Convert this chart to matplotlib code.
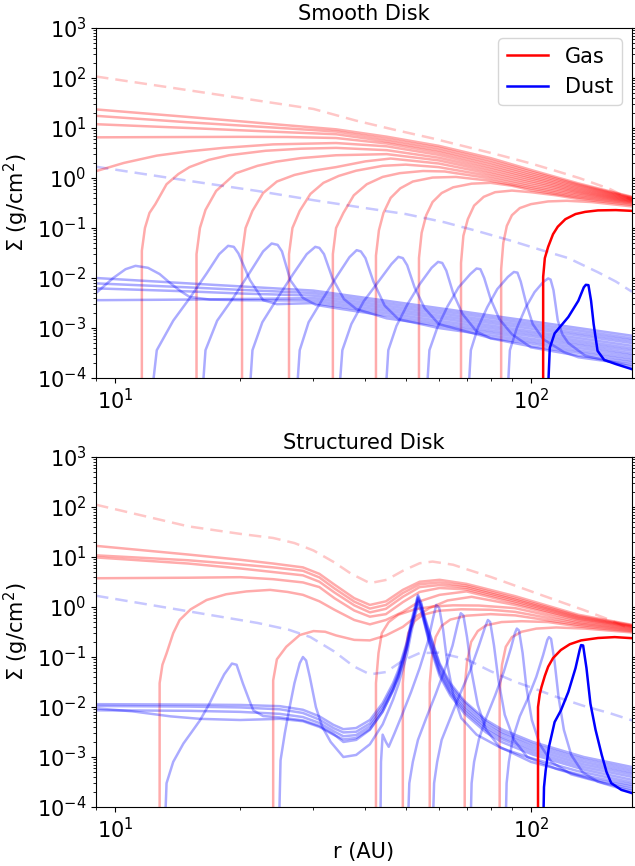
import numpy as np
import matplotlib
matplotlib.use('Agg')
import matplotlib.pyplot as plt
from matplotlib.lines import Line2D
from matplotlib.ticker import NullFormatter

# ---------------- Smooth disk ----------------
# initial profiles (dashed)
smooth_gas0 = [(9, 107), (14, 62), (21.4, 36.6), (30, 24), (38, 14), (47, 9.2), (58, 6.2),
               (70, 4.2), (85, 2.8), (100, 1.95), (115, 1.38), (131, 0.99), (155, 0.6), (175, 0.36)]
smooth_dust0 = [(9, 1.68), (15, 0.88), (22, 0.55), (30, 0.36), (40, 0.25), (50, 0.19), (62, 0.13),
                (75, 0.085), (90, 0.055), (105, 0.037), (123, 0.025), (145, 0.013), (160, 0.0085), (175, 0.0053)]

# gas snapshots, last one is the final (opaque) profile
smooth_gas = [
    [(9, 23.5), (15, 16.6), (20, 13.6), (26, 11.3), (34, 9.4), (45, 6.7), (60, 4.4), (80, 2.5), (100, 1.45), (130, 0.78), (175, 0.42)],
    [(9, 17.5), (15, 13.0), (20, 11.2), (26, 9.8), (34, 8.5), (45, 6.0), (60, 4.0), (80, 2.25), (100, 1.33), (130, 0.74), (175, 0.41)],
    [(9, 11.9), (15, 10.0), (20, 9.0), (26, 8.2), (34, 7.5), (45, 5.4), (60, 3.6), (80, 2.03), (100, 1.22), (130, 0.7), (175, 0.40)],
    [(9, 6.5), (15, 6.6), (20, 6.65), (26, 6.6), (34, 6.3), (45, 4.9), (60, 3.25), (80, 1.83), (100, 1.12), (130, 0.66), (175, 0.39)],
    [(9, 1.37), (10.5, 2.0), (12.6, 2.8), (15, 3.4), (18.2, 4.0), (24, 4.7), (34, 5.0), (45, 4.3), (60, 2.9), (80, 1.65), (100, 1.03),
     (130, 0.62), (175, 0.38)],
    [(11.6, 1e-5), (11.6, 0.035), (11.8, 0.1), (12.1, 0.2), (12.5, 0.3), (13.3, 0.75), (14.2, 1.2), (15.1, 1.65), (16.8, 2.3), (18.8, 2.85),
     (23, 3.5), (28, 3.85), (34, 4.0), (45, 3.6), (60, 2.55), (80, 1.49), (100, 0.95), (130, 0.585), (175, 0.37)],
    [(15.7, 1e-5), (15.7, 0.03), (16.0, 0.1), (16.5, 0.23), (17.5, 0.55), (19.5, 1.24), (22, 1.75), (24.4, 2.12), (28, 2.5), (34, 2.85),
     (45, 3.0), (60, 2.25), (80, 1.34), (100, 0.87), (130, 0.55), (175, 0.36)],
    [(20.2, 1e-5), (20.2, 0.03), (20.6, 0.1), (21.4, 0.22), (22.7, 0.5), (24.5, 0.85), (27, 1.15), (30, 1.4), (34, 1.65), (40, 2.15),
     (46, 2.45), (60, 1.95), (80, 1.21), (100, 0.8), (130, 0.52), (175, 0.35)],
    [(26.2, 1e-5), (26.2, 0.03), (26.7, 0.1), (27.8, 0.22), (29.5, 0.48), (31.7, 0.8), (34.5, 1.1), (38, 1.4), (44, 1.75), (50, 1.85),
     (60, 1.65), (80, 1.09), (100, 0.73), (130, 0.49), (175, 0.34)],
    [(33.4, 1e-5), (33.4, 0.03), (34, 0.1), (35.4, 0.2), (37.5, 0.45), (40.3, 0.75), (44, 1.05), (48.4, 1.25), (55, 1.38), (62, 1.35),
     (80, 0.98), (100, 0.67), (130, 0.46), (175, 0.33)],
    [(42.4, 1e-5), (42.4, 0.028), (43.1, 0.09), (44.2, 0.2), (46, 0.4), (48.5, 0.62), (52, 0.85), (58, 1.02), (66, 1.05), (80, 0.88),
     (100, 0.62), (130, 0.43), (175, 0.32)],
    [(53.8, 1e-5), (53.8, 0.025), (54.6, 0.08), (56, 0.18), (58, 0.33), (61, 0.5), (65, 0.65), (72, 0.77), (80, 0.8), (90, 0.7),
     (100, 0.57), (130, 0.405), (175, 0.305)],
    [(67.9, 1e-5), (67.9, 0.02), (68.8, 0.07), (70.5, 0.15), (73, 0.28), (77, 0.42), (82, 0.52), (90, 0.56), (100, 0.52), (115, 0.45),
     (130, 0.38), (175, 0.29)],
    [(84.8, 1e-5), (84.8, 0.015), (85.8, 0.05), (87.5, 0.11), (90, 0.18), (94, 0.25), (100, 0.3), (110, 0.34), (122, 0.35), (140, 0.33),
     (175, 0.27)],
    [(107, 1e-5), (107, 0.0105), (108, 0.025), (110, 0.042), (113, 0.075), (116, 0.106), (121, 0.15), (128, 0.19), (135, 0.21),
     (145, 0.225), (160, 0.228), (175, 0.22)],
]

smooth_dust = [
    [(9, 1.0e-2), (15, 7.8e-3), (20, 6.8e-3), (30, 5.6e-3), (45, 3.5e-3), (60, 2.5e-3), (80, 1.78e-3), (100, 1.37e-3), (130, 1.0e-3), (175, 7.0e-4)],
    [(9, 7.8e-3), (15, 6.5e-3), (20, 5.8e-3), (30, 5.0e-3), (45, 3.12e-3), (60, 2.23e-3), (80, 1.59e-3), (100, 1.22e-3), (130, 8.9e-4), (175, 6.2e-4)],
    [(9, 6.2e-3), (15, 5.4e-3), (20, 4.9e-3), (30, 4.45e-3), (45, 2.78e-3), (60, 1.99e-3), (80, 1.41e-3), (100, 1.09e-3), (130, 7.9e-4), (175, 5.6e-4)],
    [(9, 3.6e-3), (15, 3.7e-3), (20, 3.8e-3), (30, 3.96e-3), (45, 2.48e-3), (60, 1.77e-3), (80, 1.26e-3), (100, 9.7e-4), (130, 7.1e-4), (175, 5.0e-4)],
    [(9, 5.0e-3), (9.9, 0.01), (10.6, 0.015), (11.2, 0.0175), (12.0, 0.016), (12.8, 0.012), (13.6, 7.8e-3), (14.4, 5.4e-3), (15.1, 4.2e-3),
     (16.9, 3.7e-3), (20, 3.6e-3), (30, 3.53e-3), (45, 2.21e-3), (60, 1.58e-3), (80, 1.12e-3), (100, 8.6e-4), (130, 6.3e-4), (175, 4.4e-4)],
    [(12.0, 1e-5), (12.6, 3.6e-4), (13.8, 1.4e-3), (15.1, 3.9e-3), (16.6, 0.0123), (17.8, 0.03), (18.7, 0.044), (19.3, 0.042), (19.8, 0.031),
     (21.1, 9.1e-3), (22.7, 3.6e-3), (24.5, 3.0e-3), (30, 3.15e-3), (45, 1.97e-3), (60, 1.4e-3), (80, 1.0e-3), (100, 7.7e-4), (130, 5.6e-4), (175, 3.9e-4)],
    [(16.0, 1e-5), (16.5, 3.6e-4), (17.6, 1.4e-3), (19.2, 3.9e-3), (21.1, 0.013), (22.7, 0.034), (23.8, 0.049), (24.6, 0.046), (25.2, 0.034),
     (26.4, 9.0e-3), (28.3, 4.0e-3), (30.4, 2.9e-3), (35, 2.4e-3), (45, 1.75e-3), (60, 1.25e-3), (80, 8.9e-4), (100, 6.9e-4), (130, 5.0e-4), (175, 3.5e-4)],
    [(20.8, 1e-5), (21.4, 3.6e-4), (22.6, 1.3e-3), (24.5, 3.8e-3), (26.8, 0.012), (28.9, 0.03), (30.3, 0.042), (31.0, 0.04), (31.8, 0.03),
     (33.3, 0.01), (35.5, 3.8e-3), (38, 2.4e-3), (45, 1.56e-3), (60, 1.12e-3), (80, 8.0e-4), (100, 6.1e-4), (130, 4.5e-4), (175, 3.1e-4)],
    [(27, 1e-5), (27.8, 3.6e-4), (29.2, 1.3e-3), (31.5, 3.7e-3), (34.2, 0.011), (36.6, 0.026), (38.1, 0.036), (39.0, 0.034), (40.0, 0.025),
     (41.8, 8.5e-3), (44.5, 2.8e-3), (48, 1.5e-3), (60, 1.0e-3), (80, 7.1e-4), (100, 5.45e-4), (130, 4.0e-4), (175, 2.8e-4)],
    [(34.1, 1e-5), (35.2, 3.6e-4), (37, 1.2e-3), (39.6, 3.4e-3), (43, 8.5e-3), (46.2, 0.019), (48, 0.0265), (49.2, 0.025), (50.4, 0.018),
     (52.5, 6.5e-3), (55.5, 2.5e-3), (60, 1.2e-3), (80, 6.3e-4), (100, 4.9e-4), (130, 3.55e-4), (175, 2.5e-4)],
    [(44.2, 1e-5), (45.4, 3.6e-4), (47.5, 1.1e-3), (50.5, 3.0e-3), (54, 7.5e-3), (57.7, 0.016), (59.8, 0.021), (61.2, 0.02), (62.6, 0.014),
     (65, 5.0e-3), (68.5, 1.9e-3), (74, 8.5e-4), (80, 6.2e-4), (100, 4.3e-4), (130, 3.2e-4), (175, 2.25e-4)],
    [(55.5, 1e-5), (57, 3.6e-4), (59.5, 1.0e-3), (63, 2.7e-3), (67, 6.5e-3), (71.5, 0.012), (74, 0.0155), (75.6, 0.015), (77.2, 0.01),
     (80, 3.8e-3), (84, 1.5e-3), (90, 7.5e-4), (100, 4.1e-4), (130, 2.8e-4), (175, 2.05e-4)],
    [(70, 1e-5), (71.7, 3.6e-4), (74.5, 1.0e-3), (78.5, 2.6e-3), (83, 6.0e-3), (88, 0.0105), (91, 0.0132), (92.8, 0.0128), (94.5, 8.5e-3),
     (97.5, 3.0e-3), (101, 1.2e-3), (107, 6.0e-4), (120, 3.3e-4), (130, 2.6e-4), (175, 1.85e-4)],
    [(87, 1e-5), (89, 3.6e-4), (92.5, 1.0e-3), (97, 2.5e-3), (102, 5.2e-3), (107, 8.3e-3), (110, 9.8e-3), (111.5, 9.3e-3), (113.3, 5.7e-3),
     (116, 1.43e-3), (119, 7.5e-4), (123, 5.0e-4), (135, 2.8e-4), (175, 1.68e-4)],
    [(109, 1e-5), (111, 4.0e-4), (114, 7.8e-4), (123, 1.66e-3), (130, 3.5e-3), (134, 6.5e-3), (135.5, 7.3e-3), (137.5, 7.2e-3),
     (139.5, 3.5e-3), (141.5, 1.2e-3), (144.6, 3.5e-4), (150, 2.3e-4), (160, 1.9e-4), (175, 1.5e-4)],
]

# ---------------- Structured disk ----------------
struct_gas0 = [(9, 111), (15, 41), (20, 29), (24, 24), (27, 19), (30, 13.5), (33.5, 8.0), (37, 4.6), (41, 3.0), (45, 3.5),
               (49.2, 5.3), (54, 7.5), (58, 8.1), (65, 7.0), (70, 5.7), (80, 4.0), (101, 2.0), (120, 1.2), (134, 0.87), (155, 0.55), (175, 0.35)]
struct_dust0 = [(9, 1.68), (16, 0.75), (22, 0.48), (26.2, 0.35), (29.5, 0.25), (33.6, 0.13), (37.5, 0.065), (41, 0.045), (44.8, 0.05),
                (49.2, 0.085), (54, 0.12), (60, 0.122), (70, 0.09), (80, 0.052), (91.6, 0.032), (101, 0.024), (115, 0.016),
                (134, 0.0105), (155, 0.0075), (175, 0.0054)]

struct_gas = [
    [(9, 16.7), (15, 11.2), (20, 8.8), (24, 7.4), (28.3, 6.2), (31, 4.6), (33.7, 2.8), (37.6, 1.5), (41, 1.1), (44.8, 1.3), (49.2, 2.2),
     (54, 3.2), (60.3, 3.5), (70, 2.9), (91.6, 1.65), (130, 0.7), (175, 0.44)],
    [(9, 10.8), (15, 8.6), (20, 7.1), (24, 6.2), (28.3, 5.3), (31, 3.9), (33.7, 2.35), (37.6, 1.28), (41, 0.93), (44.8, 1.1), (49.2, 1.9),
     (54, 2.85), (60.3, 3.1), (70, 2.65), (91.6, 1.5), (130, 0.66), (175, 0.43)],
    [(9, 9.8), (15, 7.4), (20, 5.9), (24, 5.0), (28.3, 4.3), (31, 3.2), (33.7, 1.95), (37.6, 1.08), (41, 0.78), (44.8, 0.92), (49.2, 1.6),
     (54, 2.5), (60.3, 2.75), (70, 2.45), (91.6, 1.4), (130, 0.63), (175, 0.42)],
    [(9, 3.76), (15, 3.85), (20, 3.95), (24, 3.6), (28.3, 3.1), (31, 2.5), (33.7, 1.5), (37.6, 0.85), (41, 0.64), (44.8, 0.72), (49.2, 1.25),
     (54, 2.0), (60.3, 2.4), (70, 2.25), (91.6, 1.3), (130, 0.6), (175, 0.41)],
    [(12.8, 1e-5), (12.8, 0.03), (13.0, 0.07), (13.3, 0.118), (13.8, 0.3), (14.3, 0.55), (15.2, 0.9), (16.6, 1.38), (18.5, 1.8), (20.7, 2.05),
     (23.6, 2.2), (26, 2.0), (28.3, 1.75), (31, 1.3), (33.7, 0.88), (37.6, 0.55), (41, 0.45), (44.8, 0.55), (49.2, 0.8), (54, 1.3),
     (60.3, 1.75), (70, 2.05), (91.6, 1.2), (130, 0.57), (175, 0.40)],
    [(24.0, 1e-5), (24.0, 0.034), (24.5, 0.09), (25.8, 0.16), (27.8, 0.275), (30, 0.33), (32, 0.32), (34, 0.27), (37.6, 0.22), (41, 0.215),
     (44.8, 0.27), (49.2, 0.4), (53, 0.65), (57, 0.95), (63, 1.35), (72, 1.6), (91.6, 1.1), (130, 0.54), (175, 0.385)],
    [(42.4, 1e-5), (42.4, 0.03), (43, 0.12), (43.8, 0.3), (45.5, 0.5), (48, 0.7), (52.6, 0.9), (58, 1.02), (65, 1.08), (75, 1.07),
     (91.6, 0.95), (130, 0.5), (175, 0.37)],
    [(49.2, 1e-5), (49.2, 0.03), (49.8, 0.12), (50.7, 0.3), (52.5, 0.52), (55, 0.7), (60, 0.84), (68, 0.9), (80, 0.88), (91.6, 0.8),
     (130, 0.47), (175, 0.355)],
    [(57.1, 1e-5), (57.1, 0.03), (57.8, 0.1), (59, 0.25), (61, 0.42), (64, 0.56), (70, 0.67), (80, 0.72), (91.6, 0.68), (130, 0.44), (175, 0.34)],
    [(69.3, 1e-5), (69.3, 0.025), (70.2, 0.08), (71.8, 0.2), (74.5, 0.33), (78, 0.43), (85, 0.5), (95, 0.52), (110, 0.5), (130, 0.41), (175, 0.325)],
    [(84.1, 1e-5), (84.1, 0.02), (85.2, 0.07), (87, 0.16), (90, 0.25), (95, 0.32), (103, 0.37), (115, 0.39), (135, 0.37), (175, 0.31)],
    [(104, 1e-5), (104, 0.01), (105, 0.018), (106, 0.025), (108, 0.042), (110, 0.064), (113, 0.095), (118, 0.138), (124, 0.18),
     (132, 0.215), (145, 0.24), (159, 0.25), (175, 0.238)],
]

struct_dust = [
    [(9, 0.0114), (15, 0.0112), (20, 0.011), (24.9, 0.0104), (28.3, 8.8e-3), (31, 6.5e-3), (33.5, 4.4e-3), (35.4, 3.6e-3), (38, 3.8e-3),
     (41, 5.5e-3), (44, 0.012), (46.6, 0.03), (48, 0.055), (50.3, 0.2), (51.5, 0.5), (52.6, 1.0), (53.5, 1.74), (54.5, 1.2), (55.5, 0.65),
     (57.1, 0.3), (60.3, 0.075), (64, 0.03), (69.3, 0.013), (78, 5.5e-3), (85, 3.6e-3), (101, 2.0e-3), (134, 1.0e-3), (175, 6.3e-4)],
    [(9, 0.0105), (15, 0.0102), (20, 9.8e-3), (24.9, 9.0e-3), (28.3, 7.6e-3), (31, 5.6e-3), (33.5, 3.8e-3), (35.4, 3.1e-3), (38, 3.2e-3),
     (41, 4.7e-3), (44, 0.0105), (46.6, 0.026), (48, 0.048), (50.3, 0.18), (51.5, 0.45), (52.6, 0.9), (53.5, 1.62), (54.5, 1.12), (55.5, 0.6),
     (57.1, 0.28), (60.3, 0.07), (64, 0.027), (69.3, 0.012), (78, 5.0e-3), (85, 3.2e-3), (101, 1.8e-3), (134, 9.0e-4), (175, 5.6e-4)],
    [(9, 8.6e-3), (15, 8.4e-3), (20, 8.0e-3), (24.9, 7.3e-3), (28.3, 6.3e-3), (31, 4.8e-3), (33.5, 3.3e-3), (35.4, 2.6e-3), (38, 2.75e-3),
     (41, 4.1e-3), (44, 9.2e-3), (46.6, 0.023), (48, 0.043), (50.3, 0.16), (51.5, 0.41), (52.6, 0.82), (53.5, 1.5), (54.5, 1.04), (55.5, 0.55),
     (57.1, 0.24), (60.3, 0.06), (64, 0.024), (69.3, 0.0104), (78, 4.4e-3), (85, 2.9e-3), (101, 1.6e-3), (134, 8.0e-4), (175, 5.0e-4)],
    [(9, 9.4e-3), (11, 8.2e-3), (13.6, 6.5e-3), (16, 5.8e-3), (20, 5.5e-3), (24.9, 5.8e-3), (28.3, 5.2e-3), (31, 4.0e-3), (33.5, 2.8e-3),
     (35.4, 2.25e-3), (38, 2.4e-3), (41, 3.6e-3), (44, 8.2e-3), (46.6, 0.021), (48, 0.039), (50.3, 0.145), (51.5, 0.37), (52.6, 0.75),
     (53.5, 1.4), (54.5, 0.97), (55.5, 0.5), (57.1, 0.21), (60.3, 0.053), (64, 0.021), (69.3, 9.2e-3), (78, 3.9e-3), (85, 2.55e-3),
     (101, 1.42e-3), (134, 7.1e-4), (175, 4.5e-4)],
    [(13.1, 1e-5), (13.3, 3.0e-4), (13.8, 8.0e-4), (14.6, 1.86e-3), (15.3, 3.2e-3), (16.0, 5.4e-3), (16.8, 0.011), (17.5, 0.0217),
     (18.3, 0.045), (19.1, 0.074), (19.6, 0.07), (20.3, 0.0295), (21.0, 0.014), (21.5, 8.6e-3), (22.7, 6.6e-3), (24.9, 6.2e-3),
     (28.3, 5.4e-3), (31, 4.2e-3), (33.5, 2.9e-3), (35.4, 2.0e-3), (38, 2.2e-3), (41, 3.5e-3), (44, 8.0e-3), (46.6, 0.022), (48, 0.04),
     (50.3, 0.15), (51.5, 0.4), (52.6, 0.8), (53.5, 1.3), (54.5, 0.9), (55.5, 0.48), (57.1, 0.19), (60.3, 0.047), (64, 0.019),
     (69.3, 8.2e-3), (78, 3.5e-3), (85, 2.3e-3), (101, 1.26e-3), (134, 6.3e-4), (175, 4.0e-4)],
    [(24.7, 1e-5), (25.0, 8.6e-4), (25.6, 3.0e-3), (26.2, 8.6e-3), (27.0, 0.03), (27.8, 0.075), (28.3, 0.1), (28.8, 0.085), (29.4, 0.04),
     (30.4, 0.01), (31.5, 4.0e-3), (33, 2.0e-3), (35.4, 1.0e-3), (38, 1.1e-3), (41, 1.8e-3), (44, 4.5e-3), (46.6, 0.014), (48, 0.028),
     (50.3, 0.11), (51.5, 0.3), (52.6, 0.65), (53.5, 1.1), (54.5, 0.8), (55.5, 0.45), (57.1, 0.17), (60.3, 0.042), (64, 0.017),
     (69.3, 7.3e-3), (78, 3.1e-3), (85, 2.0e-3), (101, 1.12e-3), (134, 5.6e-4), (175, 3.5e-4)],
    [(43.4, 1e-5), (43.6, 8.0e-4), (44.0, 2.8e-3), (44.8, 2.0e-3), (45.5, 1.6e-3), (47, 3.0e-3), (49, 7.0e-3), (51.5, 0.02), (54, 0.06),
     (56.5, 0.2), (58.3, 0.65), (59.2, 1.1), (60.2, 0.95), (61.5, 0.35), (63, 0.07), (65, 0.018), (68, 6.0e-3), (74, 2.8e-3), (85, 1.5e-3),
     (100, 9.5e-4), (130, 5.2e-4), (175, 3.1e-4)],
    [(50.3, 1e-5), (51, 3.0e-4), (52, 8.0e-4), (53.5, 2.2e-3), (56, 6.0e-3), (59, 0.018), (62, 0.055), (64.8, 0.17), (66.8, 0.5),
     (67.8, 0.75), (68.8, 0.68), (70.2, 0.25), (72, 0.05), (74.5, 0.011), (78, 3.5e-3), (84, 1.6e-3), (100, 8.0e-4), (130, 4.5e-4), (175, 2.8e-4)],
    [(57.8, 1e-5), (58.5, 3.0e-4), (59.5, 8.0e-4), (61, 2.2e-3), (64, 6.0e-3), (67.5, 0.018), (71.5, 0.055), (75, 0.17), (77.6, 0.4),
     (78.8, 0.55), (79.8, 0.5), (81.5, 0.17), (83.5, 0.035), (86.5, 7.0e-3), (91, 2.2e-3), (98, 1.0e-3), (115, 5.8e-4), (140, 3.6e-4), (175, 2.55e-4)],
    [(71.3, 1e-5), (72, 3.0e-4), (73, 8.0e-4), (75, 2.3e-3), (78, 6.0e-3), (82, 0.017), (86, 0.05), (89.5, 0.15), (91.5, 0.3), (92.5, 0.37),
     (93.6, 0.34), (95.5, 0.12), (97.5, 0.025), (100.5, 5.5e-3), (105, 1.8e-3), (112, 8.0e-4), (125, 4.5e-4), (150, 3.0e-4), (175, 2.3e-4)],
    [(86.6, 1e-5), (87.4, 3.0e-4), (88.5, 8.0e-4), (90.5, 2.4e-3), (94, 6.5e-3), (98, 0.014), (103, 0.04), (107, 0.11), (109.5, 0.22),
     (110.5, 0.25), (111.8, 0.23), (114, 0.08), (116.5, 0.016), (120, 3.5e-3), (125, 1.1e-3), (133, 5.0e-4), (145, 3.2e-4), (160, 2.5e-4), (175, 2.1e-4)],
    [(106.7, 1e-5), (107.5, 2.5e-4), (108.5, 5.4e-4), (110.5, 1.6e-3), (114, 5.0e-3), (118, 8.5e-3), (123, 0.02), (128, 0.06), (131, 0.14),
     (132, 0.173), (133.5, 0.17), (136, 0.06), (139, 0.0117), (143, 3.5e-3), (148, 1.1e-3), (152, 5.0e-4), (156, 3.0e-4), (165, 2.2e-4), (175, 1.9e-4)],
]

y_decades = [1e-4, 1e-3, 1e-2, 1e-1, 1e0, 1e1, 1e2, 1e3]
x_decades = [10, 100]

FS = 15
LW = 1.8


def draw_panel(ax, gas0, dust0, gas, dust, title):
    r, s = zip(*gas0)
    ax.plot(r, s, color='red', alpha=0.22, lw=LW, ls=(0, (5, 2.8)))
    r, s = zip(*dust0)
    ax.plot(r, s, color='blue', alpha=0.22, lw=LW, ls=(0, (5, 2.8)))
    for c in gas[:-1]:
        r, s = zip(*c)
        ax.plot(r, s, color='red', alpha=0.33, lw=LW)
    for c in dust[:-1]:
        r, s = zip(*c)
        ax.plot(r, s, color='blue', alpha=0.33, lw=LW)
    r, s = zip(*gas[-1])
    ax.plot(r, s, color='red', lw=LW)
    r, s = zip(*dust[-1])
    ax.plot(r, s, color='blue', lw=LW)

    ax.set_xscale('log')
    ax.set_yscale('log')
    ax.set_yticks(y_decades)
    ax.set_xticks(x_decades)
    ax.set_xlim(9, 175)
    ax.set_ylim(1e-4, 1e3)
    ax.xaxis.set_minor_formatter(NullFormatter())
    ax.yaxis.set_minor_formatter(NullFormatter())
    ax.set_title(title, fontsize=FS)
    ax.set_ylabel(r'$\Sigma$ (g/cm$^2$)', fontsize=FS)
    ax.tick_params(axis='both', which='major', labelsize=FS)
    ax.tick_params(axis='y', which='both', right=True)


fig = plt.figure(figsize=(6.35, 8.66), dpi=100)
ax1 = fig.add_axes([0.1512, 0.5635, 0.8441, 0.4042])
ax2 = fig.add_axes([0.1512, 0.0681, 0.8441, 0.4042])

draw_panel(ax1, smooth_gas0, smooth_dust0, smooth_gas, smooth_dust, 'Smooth Disk')
draw_panel(ax2, struct_gas0, struct_dust0, struct_gas, struct_dust, 'Structured Disk')
ax2.set_xlabel('r (AU)', fontsize=FS, labelpad=0)

handles = [Line2D([], [], color='red', lw=LW), Line2D([], [], color='blue', lw=LW)]
ax1.legend(handles, ['Gas', 'Dust'], loc='upper right', fontsize=FS)

fig.savefig('out.png', dpi=100)
